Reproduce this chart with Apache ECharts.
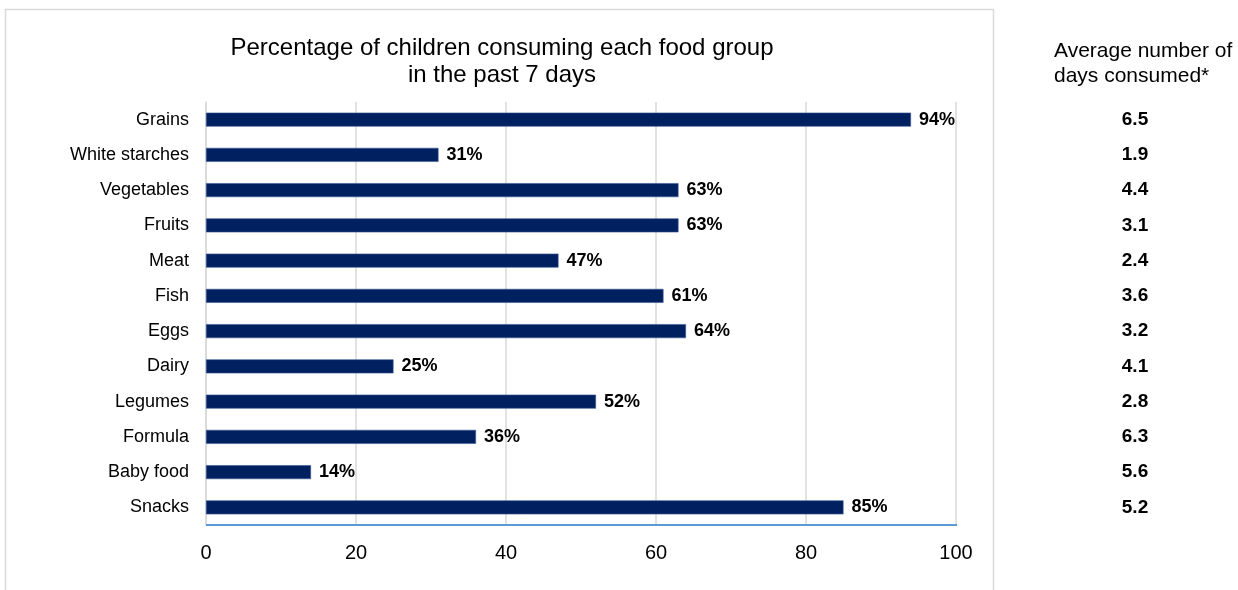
<!DOCTYPE html>
<html>
<head>
<meta charset="utf-8">
<script src="https://cdn.jsdelivr.net/npm/echarts@6/dist/echarts.min.js"></script>
<style>
  html, body { margin: 0; padding: 0; background: #fff; }
  #chart { width: 1238px; height: 590px; }
</style>
</head>
<body>
<div id="chart"></div>
<script>
// Food groups, top to bottom
const foodGroups = ['Grains', 'White starches', 'Vegetables', 'Fruits', 'Meat', 'Fish', 'Eggs', 'Dairy', 'Legumes', 'Formula', 'Baby food', 'Snacks'];
// Percentage of children consuming each group in the past 7 days
const pctConsuming = [94, 31, 63, 63, 47, 61, 64, 25, 52, 36, 14, 85];
// Average number of days consumed (among consumers)
const avgDays = ['6.5', '1.9', '4.4', '3.1', '2.4', '3.6', '3.2', '4.1', '2.8', '6.3', '5.6', '5.2'];
// Value axis ticks
const xTicks = [0, 20, 40, 60, 80, 100];

const FONT = '"Liberation Sans", Arial, sans-serif';

const chart = echarts.init(document.getElementById('chart'), null, { renderer: 'canvas' });

const frame = {
  type: 'rect', silent: true, z: -1,
  shape: { x: 5.5, y: 9.5, width: 988, height: 600 },
  style: { fill: 'none', stroke: '#d9d9d9', lineWidth: 1.5 }
};

chart.setOption({
  animation: false,
  backgroundColor: '#ffffff',
  textStyle: { fontFamily: FONT },
  title: [
    {
      text: 'Percentage of children consuming each food group\nin the past 7 days',
      left: 502, top: 35, textAlign: 'center', padding: 0,
      textStyle: { fontFamily: FONT, fontSize: 24, fontWeight: 'normal', color: '#000', lineHeight: 27 }
    },
    {
      text: 'Average number of\ndays consumed*',
      left: 1054, top: 39, padding: 0,
      textStyle: { fontFamily: FONT, fontSize: 21, fontWeight: 'normal', color: '#000', lineHeight: 25 }
    }
  ],
  graphic: [frame],
  grid: { left: 206, right: 1238 - 956, top: 102, bottom: 590 - 525, containLabel: false },
  xAxis: {
    type: 'value',
    min: xTicks[0], max: xTicks[xTicks.length - 1], interval: 20,
    axisLine: { show: false },
    axisTick: { show: false },
    axisLabel: { fontFamily: FONT, fontSize: 20, color: '#000', margin: 18 },
    splitLine: { show: true, lineStyle: { color: '#d9d9d9', width: 1.5 } }
  },
  yAxis: [
    {
      type: 'category',
      data: foodGroups,
      inverse: true,
      axisLine: { show: true, lineStyle: { color: '#d9d9d9', width: 1.5 } },
      axisTick: { show: false },
      axisLabel: { fontFamily: FONT, fontSize: 18, color: '#000', margin: 17 }
    },
    {
      type: 'category',
      data: avgDays,
      inverse: true,
      position: 'right',
      axisLine: { show: false },
      axisTick: { show: false },
      axisLabel: { fontFamily: FONT, fontSize: 19, fontWeight: 'bold', color: '#000', align: 'center', margin: 179 }
    }
  ],
  series: [
    {
      type: 'bar',
      data: pctConsuming,
      barWidth: 14,
      itemStyle: { color: '#002060', borderColor: '#3a5a95', borderWidth: 0.6 },
      label: {
        show: true, position: 'right', distance: 8,
        formatter: '{c}%',
        fontFamily: FONT, fontSize: 18, fontWeight: 'bold', color: '#000'
      }
    }
  ]
});

// Blue baseline along the bottom of the plot
const base = chart.convertToPixel({ gridIndex: 0 }, [0, 0]);
const end = chart.convertToPixel({ gridIndex: 0 }, [100, 0]);
chart.setOption({
  graphic: [
    frame,
    {
      type: 'line', silent: true, z: 10,
      shape: { x1: base[0], y1: 525, x2: end[0] + 1, y2: 525 },
      style: { stroke: '#5b9bd5', lineWidth: 2 }
    }
  ]
});
</script>
</body>
</html>
